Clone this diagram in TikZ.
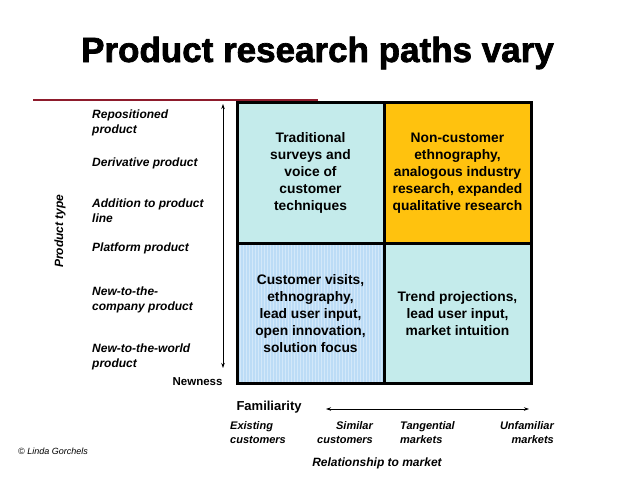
\documentclass[tikz,border=0pt]{standalone}
\usepackage{fontspec}
\setmainfont{Liberation Sans}
\newfontfamily\titlefont{Liberation Sans}[BoldFeatures={FakeBold=2}]
\usetikzlibrary{arrows.meta,positioning,patterns}
\definecolor{cellcyan}{HTML}{C4EBEB}
\definecolor{cellgold}{HTML}{FFC20E}
\definecolor{cellblue}{HTML}{BCDCF6}
\definecolor{rulered}{HTML}{8E1B2C}

\begin{document}
\begin{tikzpicture}[
    x=1pt, y=-1pt,
    cell/.style={draw=black, line width=3pt, align=center, outer sep=0pt, inner sep=0pt,
        minimum width=147pt, minimum height=140.5pt, font=\bfseries\fontsize{13.8}{17}\selectfont},
    ptype/.style={anchor=west, align=left, inner sep=0pt, font=\bfseries\itshape\fontsize{12}{15}\selectfont},
    market/.style={align=left, inner sep=0pt, font=\bfseries\itshape\fontsize{11}{14}\selectfont},
    arrow/.style={{Stealth[length=5pt,width=3.5pt]}-{Stealth[length=5pt,width=3.5pt]}, line width=0.7pt}
]
\useasboundingbox (0,0) rectangle (638,479);

% title and rule
\node[anchor=base, font=\titlefont\bfseries\fontsize{35}{40}\selectfont] (title) at (317.5,62) {Product research paths vary};
\coordinate (rulel) at (33,100);
\coordinate (ruler) at (318,100);
\draw[rulered, line width=2pt] (rulel) -- (ruler);

% the four quadrants
\node[cell, fill=cellcyan] (survey) at (310.5,173) {Traditional\\surveys and\\voice of\\customer\\techniques};
\node[cell, fill=cellgold, right=0pt of survey] (noncust) {Non-customer\\ethnography,\\analogous industry\\research, expanded\\qualitative research};
\node[cell, below=0pt of survey, preaction={fill=cellblue},
    preaction={pattern=vertical lines, pattern color=cellblue!65!white}] (visits) {Customer visits,\\ethnography,\\lead user input,\\open innovation,\\solution focus};
\node[cell, fill=cellcyan, right=0pt of visits] (trend) {Trend projections,\\lead user input,\\market intuition};

% product type axis
\node[ptype] (repos) at (92,122.5) {Repositioned\\product};
\node[ptype] (deriv) at (92,163) {Derivative product};
\node[ptype] (addit) at (92,210.5) {Addition to product\\line};
\node[ptype] (platf) at (92,248) {Platform product};
\node[ptype] (newco) at (92,300) {New-to-the-\\company product};
\node[ptype] (newwo) at (92,356.5) {New-to-the-world\\product};
\node[rotate=90, font=\bfseries\itshape\fontsize{12}{14}\selectfont] (ptlabel) at (60,231) {Product type};
\coordinate (newtop) at (223,104);
\coordinate (newbot) at (223,368);
\draw[arrow] (newtop) -- (newbot);
\node[anchor=east, font=\bfseries\fontsize{11.5}{14}\selectfont] (newness) at (226,382) {Newness};

% relationship to market axis
\node[anchor=west, font=\bfseries\fontsize{13}{15}\selectfont] (famil) at (233,407) {Familiarity};
\coordinate (famleft) at (326,409);
\coordinate (famright) at (529,409);
\draw[arrow] (famleft) -- (famright);
\node[market, anchor=north west] (exist) at (230,421.5) {Existing\\customers};
\node[market, anchor=north east, align=right] (simil) at (373,421.5) {Similar\\customers};
\node[market, anchor=north west] (tangent) at (400,421.5) {Tangential\\markets};
\node[market, anchor=north east, align=right] (unfam) at (554,421.5) {Unfamiliar\\markets};
\node[font=\bfseries\itshape\fontsize{12}{14}\selectfont] (relmkt) at (377,463) {Relationship to market};
\node[anchor=west, inner sep=0pt, font=\itshape\fontsize{9}{11}\selectfont] (copy) at (18,451) {© Linda Gorchels};
\end{tikzpicture}
\end{document}
